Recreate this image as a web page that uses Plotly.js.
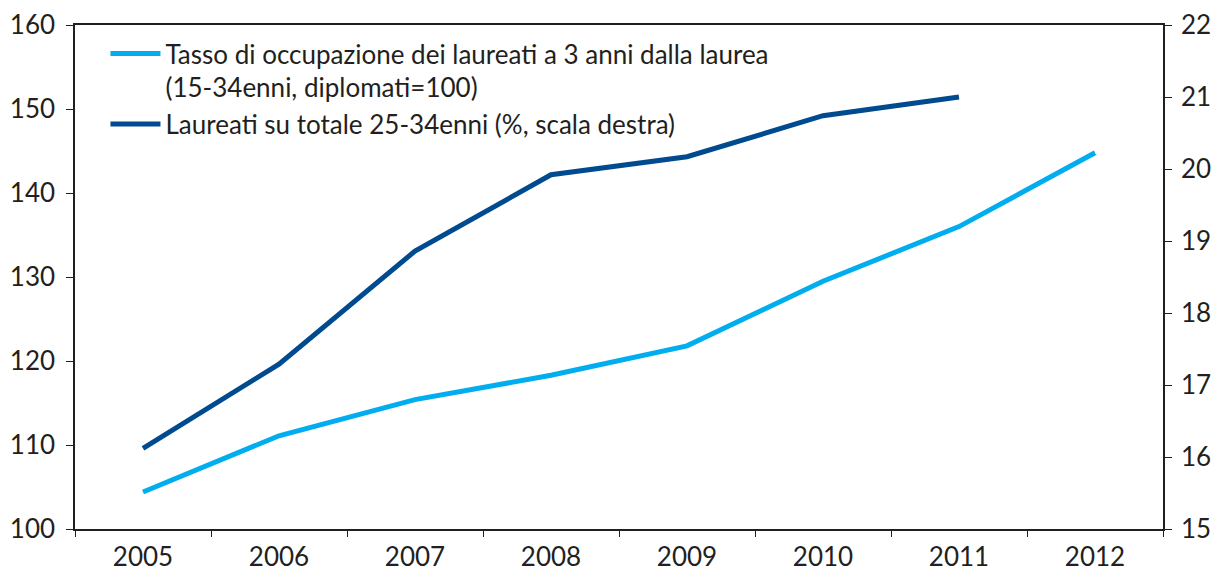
<!DOCTYPE html>
<html><head><meta charset="utf-8">
<script src="https://cdn.plot.ly/plotly-3.0.1.min.js"></script>
<style>body{margin:0;background:#fff}#chart{width:1215px;height:574px}</style>
</head><body><div id="chart"></div>
<script>
const years = ['2005','2006','2007','2008','2009','2010','2011','2012'];
const tassoOccupazione = [104.4, 111.1, 115.4, 118.3, 121.8, 129.5, 136.0, 144.8];
const yearsLaureati = ['2005','2006','2007','2008','2009','2010','2011'];
const laureatiQuota = [16.12, 17.29, 18.86, 19.92, 20.17, 20.74, 21.0];
const leftTicks = [100,110,120,130,140,150,160];
const rightTicks = [15,16,17,18,19,20,21,22];

const font = {family: 'Lato, "Open Sans", sans-serif', size: 26, color: '#231f20'};
const traces = [
  {x: years, y: tassoOccupazione, type: 'scatter', mode: 'lines', yaxis: 'y',
   name: 'Tasso di occupazione dei laureati a 3 anni dalla laurea<br>(15-34enni, diplomati=100)',
   line: {color: '#00aeef', width: 5}},
  {x: yearsLaureati, y: laureatiQuota, type: 'scatter', mode: 'lines', yaxis: 'y2',
   name: 'Laureati su totale 25-34enni (%, scala destra)',
   line: {color: '#004a8f', width: 5}}
];
const layout = {
  width: 1215, height: 574,
  margin: {l: 75, r: 52, t: 25, b: 45},
  paper_bgcolor: '#fff', plot_bgcolor: '#fff',
  font: font,
  showlegend: true,
  legend: {x: 0.028, y: 0.99, xanchor: 'left', yanchor: 'top', bgcolor: 'rgba(0,0,0,0)',
           font: font, itemwidth: 50, valign: 'top', tracegroupgap: 0},
  xaxis: {type: 'category', range: [-0.5, 7.5], showline: true, linecolor: '#231f20', linewidth: 1.5,
          mirror: true, ticks: 'outside', ticklen: 6, tickcolor: '#231f20', tickson: 'boundaries',
          showgrid: false, zeroline: false, tickfont: font, ticklabelstandoff: 4},
  yaxis: {range: [100, 160], tickvals: leftTicks, showline: true, linecolor: '#231f20', linewidth: 1.5,
          ticks: 'outside', ticklen: 7, tickcolor: '#231f20', showgrid: false, zeroline: false,
          tickfont: font, ticklabelstandoff: 6},
  yaxis2: {range: [15, 22], tickvals: rightTicks, overlaying: 'y', side: 'right', showline: true,
           linecolor: '#231f20', linewidth: 1.5, ticks: 'outside', ticklen: 7, tickcolor: '#231f20',
           showgrid: false, zeroline: false, tickfont: font, ticklabelstandoff: 4}
};
Plotly.newPlot('chart', traces, layout, {displayModeBar: false});
</script></body></html>
